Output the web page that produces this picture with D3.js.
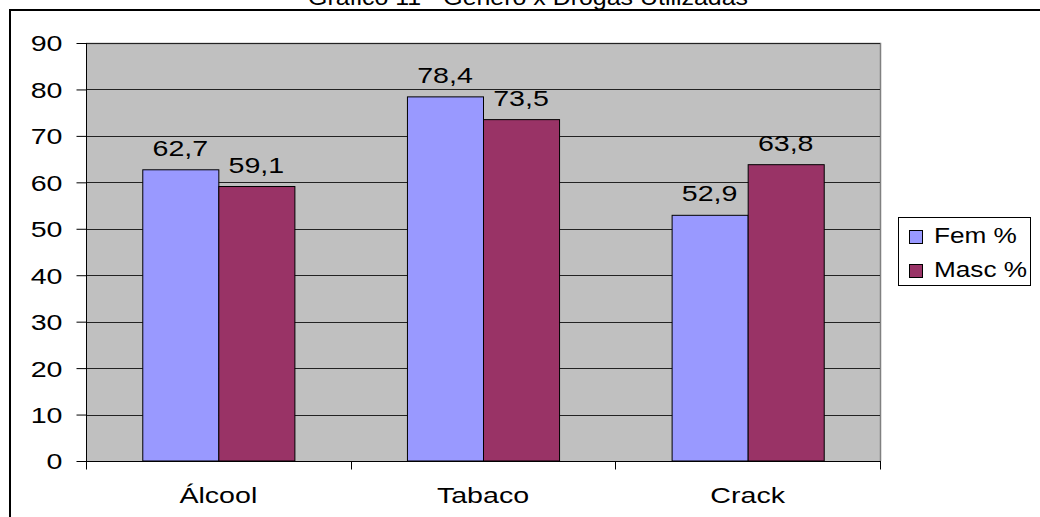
<!DOCTYPE html>
<html>
<head>
<meta charset="utf-8">
<script src="https://cdn.jsdelivr.net/npm/d3@7"></script>
<style>
html,body{margin:0;padding:0;background:#fff;overflow:hidden;}
text{font-family:"Liberation Sans",Arial,sans-serif;fill:#000;}
</style>
</head>
<body>
<svg id="chart" width="1040" height="517"></svg>
<script>
const title = "Gráfico 11 - Gênero x Drogas Utilizadas";
const categories = ["Álcool", "Tabaco", "Crack"];
const seriesNames = ["Fem %", "Masc %"];
const femValues = [62.7, 78.4, 52.9];
const mascValues = [59.1, 73.5, 63.8];
const yTicks = [0, 10, 20, 30, 40, 50, 60, 70, 80, 90];
const colors = ["#9999FF", "#993366"];

const fmt = v => String(v.toFixed(1)).replace(".", ",");
const FS = 22, SX = 1.3, SXL = 1.19;

const svg = d3.select("#chart");
const L = 86, R = 880, T = 43, B = 461;

// outer frame
svg.append("line").attr("x1", 9).attr("x2", 1045).attr("y1", 10).attr("y2", 10).attr("stroke", "#000").attr("stroke-width", 2);
svg.append("line").attr("x1", 10).attr("x2", 10).attr("y1", 9).attr("y2", 530).attr("stroke", "#000").attr("stroke-width", 2);

// title (cut off at top, as in the reference)
svg.append("text").attr("x", 528).attr("y", 5).attr("text-anchor", "middle")
  .attr("font-size", FS).attr("textLength", 440).attr("lengthAdjust", "spacingAndGlyphs").text(title);

const y = d3.scaleLinear().domain([0, 90]).range([B, T]);
const x0 = d3.scaleBand().domain(categories).range([L, R]).padding(0);
const x1 = d3.scaleBand().domain(seriesNames).range([0, x0.bandwidth()]).paddingInner(0).paddingOuter(0.74);

// plot area
svg.append("rect").attr("x", L).attr("y", T).attr("width", R - L).attr("height", B - T).attr("fill", "#C0C0C0");
svg.append("path").attr("d", `M${L},${T + 0.5}H${R + 0.5}V${B}`).attr("fill", "none").attr("stroke", "#808080").attr("stroke-width", 1.5);

// gridlines
svg.append("g").selectAll("line").data(yTicks.filter(d => d > 0)).join("line")
  .attr("x1", L).attr("x2", R).attr("y1", d => Math.round(y(d)) + 0.5).attr("y2", d => Math.round(y(d)) + 0.5)
  .attr("stroke", "#222").attr("stroke-width", 1);

// bars
const data = categories.map((c, i) => ({cat: c, vals: [femValues[i], mascValues[i]]}));
const groups = svg.append("g").selectAll("g").data(data).join("g")
  .attr("transform", d => `translate(${x0(d.cat)},0)`);
groups.selectAll("rect").data(d => d.vals.map((v, j) => ({s: seriesNames[j], v, j}))).join("rect")
  .attr("x", d => x1(d.s) + 0.5).attr("y", d => y(d.v)).attr("width", x1.bandwidth())
  .attr("height", d => B - y(d.v)).attr("fill", d => colors[d.j]).attr("stroke", "#000").attr("stroke-width", 1);
groups.selectAll("text").data(d => d.vals.map((v, j) => ({s: seriesNames[j], v, j}))).join("text")
  .attr("transform", d => `translate(${x1(d.s) + x1.bandwidth() / 2},${y(d.v) - 14}) scale(${SX},1)`)
  .attr("text-anchor", "middle").attr("font-size", FS).text(d => fmt(d.v));

// y axis
const yAxis = d3.axisLeft(y).tickValues(yTicks).tickSize(10).tickFormat(d => d);
const gy = svg.append("g").attr("transform", `translate(${L + 0.5},0)`).call(yAxis);
gy.select(".domain").attr("stroke", "#000").attr("d", `M0,${T}V${B + 8}`);
gy.selectAll(".tick line").attr("stroke", "#000");
gy.selectAll(".tick text").attr("font-size", FS).attr("font-family", "Liberation Sans, Arial, sans-serif")
  .attr("x", null).attr("dy", "0.36em").attr("text-anchor", "end")
  .attr("transform", `translate(-24,0) scale(${SX},1)`);

// x axis
const gx = svg.append("g").attr("transform", `translate(0,${B + 0.5})`);
gx.append("line").attr("x1", L).attr("x2", R + 1).attr("y1", 0).attr("y2", 0).attr("stroke", "#000");
const bounds = categories.map(c => x0(c)).concat([R]);
gx.selectAll("line.tk").data(bounds).join("line").attr("class", "tk")
  .attr("x1", d => Math.round(d) + 0.5).attr("x2", d => Math.round(d) + 0.5).attr("y1", 0).attr("y2", 8).attr("stroke", "#000");
gx.selectAll("text").data(categories).join("text")
  .attr("transform", d => `translate(${x0(d) + x0.bandwidth() / 2},41) scale(${SX},1)`)
  .attr("text-anchor", "middle").attr("font-size", FS).text(d => d);

// legend
const lg = svg.append("g");
lg.append("rect").attr("x", 898.5).attr("y", 217.5).attr("width", 132).attr("height", 68).attr("fill", "#fff").attr("stroke", "#000");
const items = lg.selectAll("g").data(seriesNames).join("g").attr("transform", (d, i) => `translate(0,${i * 34})`);
items.append("rect").attr("x", 909.5).attr("y", 230.5).attr("width", 13).attr("height", 13)
  .attr("fill", (d, i) => colors[i]).attr("stroke", "#000");
items.append("text").attr("transform", `translate(934,243) scale(${SXL},1)`).attr("font-size", FS).text(d => d);
</script>
</body>
</html>
